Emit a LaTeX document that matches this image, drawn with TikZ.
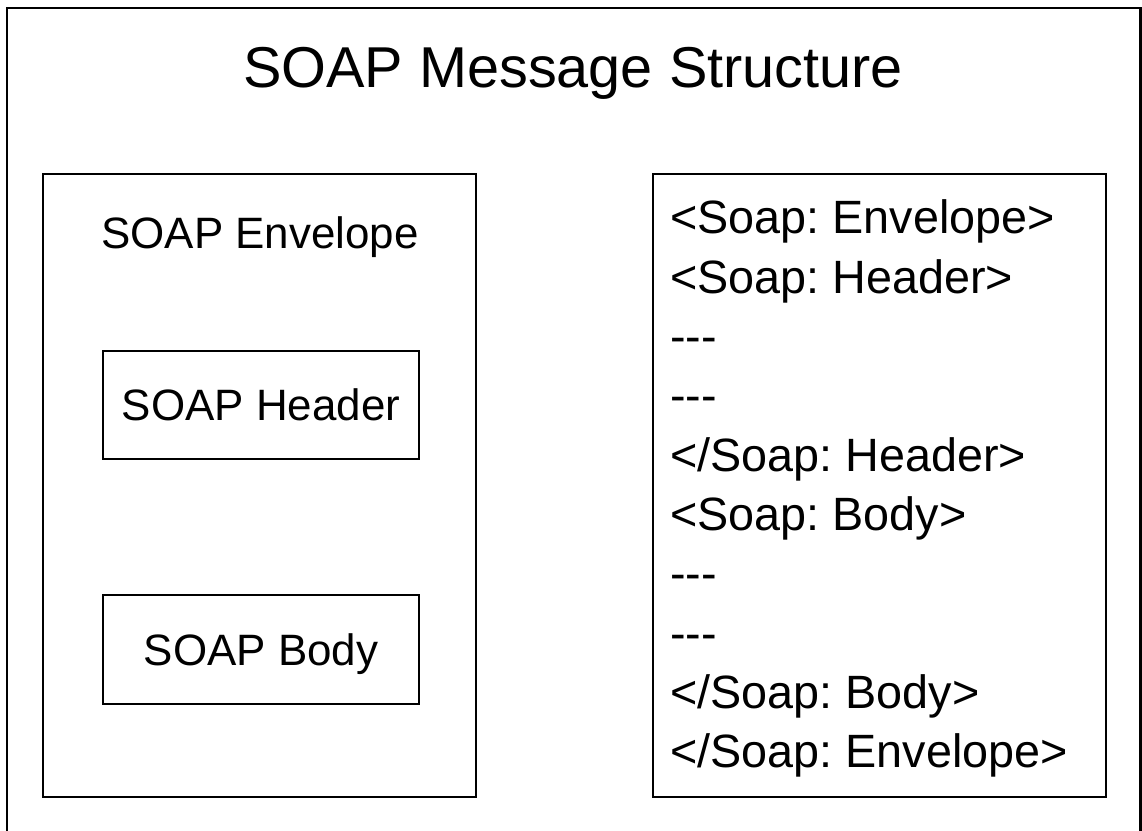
\documentclass[tikz,border=0pt]{standalone}
\usepackage{fontspec}
\setmainfont{Liberation Sans}
\usetikzlibrary{calc}
\frenchspacing

\tikzset{
  frameline/.style={line width=1.7pt},
  boxline/.style={draw, rectangle, line width=1.1pt, inner sep=0pt},
  innerbox/.style={boxline, minimum width=6.32cm, minimum height=2.16cm,
    text height=18pt, text depth=0pt, font=\fontsize{25}{30}\selectfont},
  codeline/.style={anchor=base west, inner sep=0pt, font=\fontsize{26.6}{32}\selectfont},
}

\begin{document}
\begin{tikzpicture}[x=0.02cm,y=-0.02cm]
   \useasboundingbox (0,0) rectangle (1142,831);
   \clip (0,0) rectangle (1142,831);

   % outer frame, open at the bottom
   \coordinate (f1) at (7,870);
   \coordinate (f2) at (7,8);
   \coordinate (f3) at (1140,8);
   \coordinate (f4) at (1140,870);
   \draw[frameline] (f1) -- (f2) -- (f3) -- (f4);

   \node[anchor=base, inner sep=0pt, font=\fontsize{32.8}{40}\selectfont]
    (title) at (573,88) {SOAP Message Structure};

   % left side: envelope with header and body
   \node[boxline, minimum width=8.66cm, minimum height=12.46cm] (env) at (259.5,485.5) {};
   \node[anchor=base, inner sep=0pt, font=\fontsize{25}{30}\selectfont]
    (envtxt) at (260,249) {SOAP Envelope};

   \node[innerbox] (hdr) at (261,405) {SOAP Header};
   \node[innerbox, minimum height=2.18cm] (bdy) at (261,649.5) {SOAP Body};

   % right side: the message text
   \node[boxline, minimum width=9.06cm, minimum height=12.46cm] (msg) at (879.5,485.5) {};

   \node[codeline] (l1) at (670,234) {<Soap: Envelope>};
   \node[codeline] (l2) at (670,293.3) {<Soap: Header>};
   \node[codeline] (l3) at (670,352.6) {-{}-{}-};
   \node[codeline] (l4) at (670,411.9) {-{}-{}-};
   \node[codeline] (l5) at (670,471.2) {</Soap: Header>};
   \node[codeline] (l6) at (670,530.5) {<Soap: Body>};
   \node[codeline] (l7) at (670,589.8) {-{}-{}-};
   \node[codeline] (l8) at (670,649.1) {-{}-{}-};
   \node[codeline] (l9) at (670,708.4) {</Soap: Body>};
   \node[codeline] (l10) at (670,767.7) {</Soap: Envelope>};
\end{tikzpicture}
\end{document}
